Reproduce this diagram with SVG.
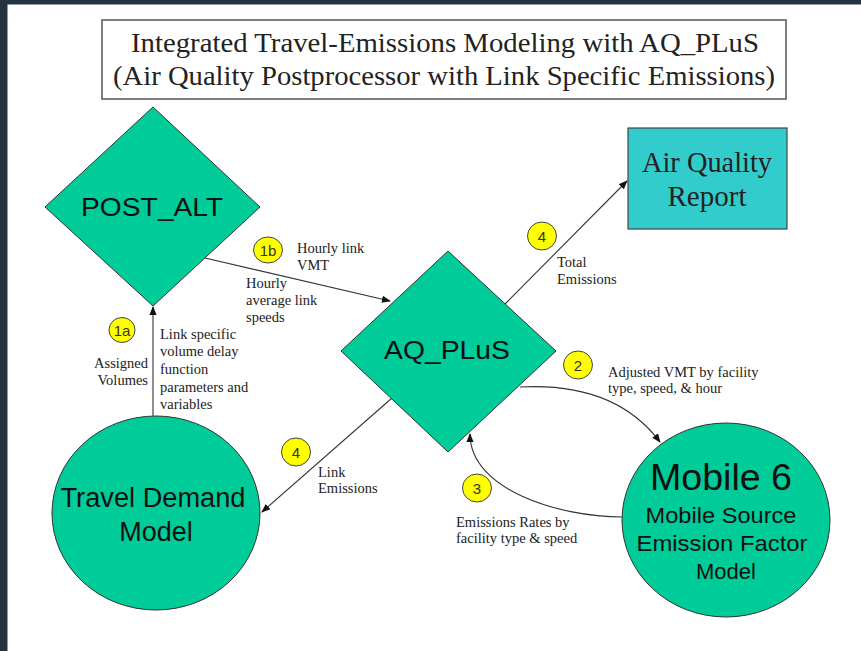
<svg xmlns="http://www.w3.org/2000/svg" width="861" height="651" viewBox="0 0 861 651">
<defs>
<marker id="arr" viewBox="0 0 10 10" refX="9" refY="5" markerWidth="9" markerHeight="9" markerUnits="userSpaceOnUse" orient="auto">
<path d="M0,1 L10,5 L0,9 z" fill="#111"/>
</marker>
<style>
.shape{fill:#00CC99;stroke:#333;stroke-width:1}
.node{font-family:"Liberation Sans",Arial,sans-serif;fill:#111;text-anchor:middle}
.serif{font-family:"Liberation Serif","Times New Roman",serif;fill:#222}
.lbl{font-family:"Liberation Serif","Times New Roman",serif;font-size:14.5px;fill:#222}
.badge{fill:#FFFF00;stroke:#444;stroke-width:1}
.btxt{font-family:"Liberation Sans",Arial,sans-serif;font-size:15px;fill:#333;text-anchor:middle}
.conn{fill:none;stroke:#333;stroke-width:1.1}
</style>
</defs>
<rect x="0" y="0" width="861" height="651" fill="#ffffff"/>
<rect x="0" y="0" width="861" height="4.5" fill="#263442"/>
<rect x="0" y="0" width="7.5" height="651" fill="#263442"/>

<g id="title">
<rect x="102" y="20" width="684" height="79" fill="#ffffff" stroke="#555" stroke-width="1.5"/>
<text class="serif" x="131" y="52" font-size="28" textLength="628" lengthAdjust="spacingAndGlyphs">Integrated Travel-Emissions Modeling with AQ_PLuS</text>
<text class="serif" x="113" y="85" font-size="28" textLength="662" lengthAdjust="spacingAndGlyphs">(Air Quality Postprocessor with Link Specific Emissions)</text>
</g>

<g id="connectors">
<line class="conn" x1="153" y1="417" x2="153" y2="307" marker-end="url(#arr)"/>
<line class="conn" x1="205" y1="258" x2="390" y2="301" marker-end="url(#arr)"/>
<line class="conn" x1="505" y1="304" x2="627" y2="181" marker-end="url(#arr)"/>
<line class="conn" x1="392" y1="398" x2="262" y2="512" marker-end="url(#arr)"/>
<path class="conn" d="M520,387 Q615,382 660,442" marker-end="url(#arr)"/>
<path class="conn" d="M622,517 C560,517 470,490 470,434" marker-end="url(#arr)"/>
</g>

<g id="post_alt">
<polygon class="shape" points="153,107 260,207 153,306 45,207"/>
<text class="node" x="152" y="216" font-size="25" textLength="142" lengthAdjust="spacingAndGlyphs">POST_ALT</text>
</g>

<g id="aq_plus">
<polygon class="shape" points="448,251 556,351 448,452 341,351"/>
<text class="node" x="447" y="359" font-size="25" textLength="126" lengthAdjust="spacingAndGlyphs">AQ_PLuS</text>
</g>

<g id="air_quality_report">
<rect x="628" y="128" width="159" height="101" fill="#33CCCC" stroke="#444" stroke-width="1.2"/>
<text class="serif" x="707" y="172" font-size="29" text-anchor="middle" textLength="130" lengthAdjust="spacingAndGlyphs">Air Quality</text>
<text class="serif" x="707" y="206" font-size="29" text-anchor="middle">Report</text>
</g>

<g id="travel_demand_model">
<ellipse class="shape" cx="156" cy="513" rx="104" ry="97"/>
<text class="node" x="153" y="507" font-size="27" textLength="185" lengthAdjust="spacingAndGlyphs">Travel Demand</text>
<text class="node" x="156" y="541" font-size="27">Model</text>
</g>

<g id="mobile6">
<ellipse class="shape" cx="726" cy="520" rx="104" ry="97"/>
<text class="node" x="721" y="490" font-size="37" textLength="142" lengthAdjust="spacingAndGlyphs">Mobile 6</text>
<text class="node" x="721" y="523" font-size="22" textLength="151" lengthAdjust="spacingAndGlyphs">Mobile Source</text>
<text class="node" x="722" y="551" font-size="22" textLength="171" lengthAdjust="spacingAndGlyphs">Emission Factor</text>
<text class="node" x="726" y="579" font-size="22">Model</text>
</g>

<g id="badges">
<ellipse class="badge" cx="122" cy="330" rx="13" ry="12.5"/>
<text class="btxt" x="122" y="335.5">1a</text>
<ellipse class="badge" cx="268" cy="250" rx="14.5" ry="13"/>
<text class="btxt" x="268" y="255.5">1b</text>
<ellipse class="badge" cx="542" cy="236" rx="14.5" ry="14"/>
<text class="btxt" x="542" y="241.5">4</text>
<ellipse class="badge" cx="578" cy="365" rx="14.5" ry="14"/>
<text class="btxt" x="578" y="370.5">2</text>
<ellipse class="badge" cx="477" cy="488" rx="14.5" ry="14"/>
<text class="btxt" x="477" y="493.5">3</text>
<ellipse class="badge" cx="296" cy="452" rx="14.5" ry="14"/>
<text class="btxt" x="296" y="457.5">4</text>
</g>

<g id="labels">
<text class="lbl" x="297" y="253">Hourly link</text>
<text class="lbl" x="297" y="270">VMT</text>
<text class="lbl" x="246" y="288">Hourly</text>
<text class="lbl" x="246" y="305">average link</text>
<text class="lbl" x="246" y="322">speeds</text>
<text class="lbl" x="557" y="267">Total</text>
<text class="lbl" x="557" y="284">Emissions</text>
<text class="lbl" x="160" y="339">Link specific</text>
<text class="lbl" x="160" y="356">volume delay</text>
<text class="lbl" x="160" y="374">function</text>
<text class="lbl" x="160" y="392">parameters and</text>
<text class="lbl" x="160" y="409">variables</text>
<text class="lbl" x="148" y="368" text-anchor="end">Assigned</text>
<text class="lbl" x="148" y="385" text-anchor="end">Volumes</text>
<text class="lbl" x="608" y="377">Adjusted VMT by facility</text>
<text class="lbl" x="608" y="393">type, speed, &amp; hour</text>
<text class="lbl" x="456" y="527">Emissions Rates by</text>
<text class="lbl" x="456" y="543">facility type &amp; speed</text>
<text class="lbl" x="318" y="477">Link</text>
<text class="lbl" x="318" y="493">Emissions</text>
</g>
</svg>
